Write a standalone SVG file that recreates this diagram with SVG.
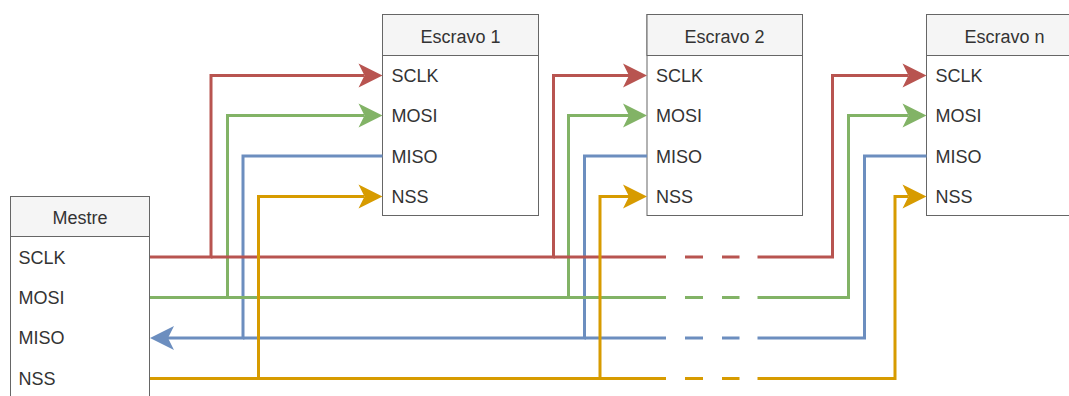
<svg xmlns="http://www.w3.org/2000/svg" width="1069" height="396" viewBox="0 0 1069 396">
<style>
.box{fill:#ffffff;stroke:#666666;stroke-width:1}
.hdr{fill:#f5f5f5;stroke:#666666;stroke-width:1}
.t{font-family:"Liberation Sans",Arial,sans-serif;font-size:18px;fill:#333333}
.h{text-anchor:middle}
.w{fill:none;stroke-width:3;stroke-linejoin:miter;stroke-linecap:butt}
.r{stroke:#b85450}
.g{stroke:#82b366}
.b{stroke:#6c8ebf}
.o{stroke:#d79b00}
</style>
<defs>
<marker id="ar" markerUnits="userSpaceOnUse" viewBox="0 -12 24 24" markerWidth="24" markerHeight="24" refX="6" refY="0" orient="auto" overflow="visible"><path d="M0,-12 L24,0 L0,12 L6,0 Z" fill="#b85450"/></marker>
<marker id="ag" markerUnits="userSpaceOnUse" viewBox="0 -12 24 24" markerWidth="24" markerHeight="24" refX="6" refY="0" orient="auto" overflow="visible"><path d="M0,-12 L24,0 L0,12 L6,0 Z" fill="#82b366"/></marker>
<marker id="ab" markerUnits="userSpaceOnUse" viewBox="0 -12 24 24" markerWidth="24" markerHeight="24" refX="6" refY="0" orient="auto" overflow="visible"><path d="M0,-12 L24,0 L0,12 L6,0 Z" fill="#6c8ebf"/></marker>
<marker id="ao" markerUnits="userSpaceOnUse" viewBox="0 -12 24 24" markerWidth="24" markerHeight="24" refX="6" refY="0" orient="auto" overflow="visible"><path d="M0,-12 L24,0 L0,12 L6,0 Z" fill="#d79b00"/></marker>
</defs>

<g id="mestre">
<rect class="box" x="10.5" y="196.5" width="139" height="203"/>
<rect class="hdr" x="10.5" y="196.5" width="139" height="40"/>
<text class="t h" x="80" y="224">Mestre</text>
<text class="t" x="18.5" y="263.5">SCLK</text>
<text class="t" x="18.5" y="303.5">MOSI</text>
<text class="t" x="18.5" y="344">MISO</text>
<text class="t" x="18.5" y="384.5">NSS</text>
</g>

<g id="escravo1">
<rect class="box" x="382.5" y="14.5" width="156" height="201"/>
<rect class="hdr" x="382.5" y="14.5" width="156" height="41"/>
<text class="t h" x="460.5" y="42.5">Escravo 1</text>
<text class="t" x="391.5" y="82">SCLK</text>
<text class="t" x="391.5" y="122">MOSI</text>
<text class="t" x="391.5" y="162.5">MISO</text>
<text class="t" x="391.5" y="203">NSS</text>
</g>

<g id="escravo2">
<rect class="box" x="647" y="14.5" width="155.5" height="201"/>
<rect class="hdr" x="647" y="14.5" width="155.5" height="41"/>
<text class="t h" x="724.5" y="42.5">Escravo 2</text>
<text class="t" x="656" y="82">SCLK</text>
<text class="t" x="656" y="122">MOSI</text>
<text class="t" x="656" y="162.5">MISO</text>
<text class="t" x="656" y="203">NSS</text>
</g>

<g id="escravon">
<rect class="box" x="926.5" y="14.5" width="156" height="201"/>
<rect class="hdr" x="926.5" y="14.5" width="156" height="41"/>
<text class="t h" x="1004.5" y="42.5">Escravo n</text>
<text class="t" x="935.5" y="82">SCLK</text>
<text class="t" x="935.5" y="122">MOSI</text>
<text class="t" x="935.5" y="162.5">MISO</text>
<text class="t" x="935.5" y="203">NSS</text>
</g>

<g id="connectors">
<!-- MISO (blue) -->
<path class="w b" d="M382.5,156 H243 V338 H168" marker-end="url(#ab)"/>
<path class="w b" d="M647,156 H584.5 V338 H243"/>
<path class="w b" d="M584.5,338 H666 M685,338 H703 M722,338 H739.5"/>
<path class="w b" d="M926.5,156 H864.5 V338 H757.5"/>
<!-- MOSI (green) -->
<path class="w g" d="M150,297.5 H227.5 V115.5 H364.5" marker-end="url(#ag)"/>
<path class="w g" d="M227.5,297.5 H568.5 V115.5 H629" marker-end="url(#ag)"/>
<path class="w g" d="M568.5,297.5 H666 M685,297.5 H703 M722,297.5 H739.5"/>
<path class="w g" d="M757.5,297.5 H848.5 V115.5 H908.5" marker-end="url(#ag)"/>
<!-- SCLK (red) -->
<path class="w r" d="M150,257 H211 V75.5 H364.5" marker-end="url(#ar)"/>
<path class="w r" d="M211,257 H553.5 V75.5 H629" marker-end="url(#ar)"/>
<path class="w r" d="M553.5,257 H666 M685,257 H703 M722,257 H739.5"/>
<path class="w r" d="M757.5,257 H832.5 V75.5 H908.5" marker-end="url(#ar)"/>
<!-- NSS (orange) -->
<path class="w o" d="M150,378.5 H258.5 V196.5 H364.5" marker-end="url(#ao)"/>
<path class="w o" d="M258.5,378.5 H600 V196.5 H629" marker-end="url(#ao)"/>
<path class="w o" d="M600,378.5 H666 M685,378.5 H703 M722,378.5 H739.5"/>
<path class="w o" d="M757.5,378.5 H895 V196.5 H908.5" marker-end="url(#ao)"/>
</g>
</svg>
